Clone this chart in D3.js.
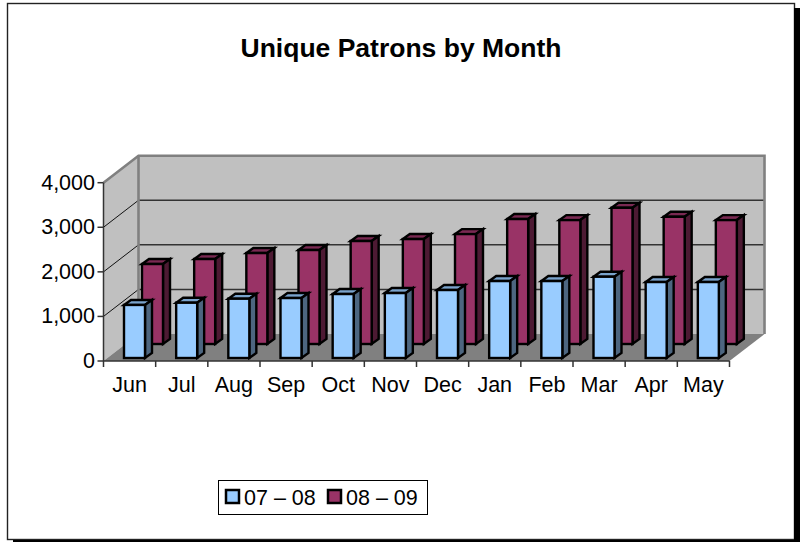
<!DOCTYPE html>
<html><head><meta charset="utf-8">
<script src="https://cdn.jsdelivr.net/npm/d3@7"></script>
<style>html,body{margin:0;padding:0;background:#fff}svg{display:block}text{font-family:"Liberation Sans",Arial,sans-serif;fill:#000}</style>
</head><body><svg id="c" width="801" height="542"></svg>
<script>
const months = ["Jun","Jul","Aug","Sep","Oct","Nov","Dec","Jan","Feb","Mar","Apr","May"];
const series0708 = [1190,1240,1330,1345,1435,1457,1525,1726,1726,1823,1704,1704];
const series0809 = [1794,1906,2040,2108,2310,2354,2466,2803,2780,3056,2854,2780];
const yTicks = [0,1000,2000,3000,4000];
const tickFormat = d3.format(",");
const seriesNames = ["07 – 08","08 – 09"];
const fills = [{front:"#99CCFF",side:"#4D6680",top:"#7AA3CC"},{front:"#993366",side:"#4D1A33",top:"#7A2952"}];

const svg = d3.select("#c");
const x = d3.scaleBand().domain(months).range([103.5,729.5]);
const y = d3.scaleLinear().domain([0,4000]).range([361,182.7]);
const wall = {dx:35,dy:-27};
const depth = {dx:7,dy:-5};
const pts = a => a.map(p=>p.join(",")).join(" ");

// frame with its shadow
svg.append("rect").attr("x",7.5).attr("y",3.5).attr("width",787).attr("height",536).attr("fill","#fff").attr("stroke","#222").attr("stroke-width",1.4);
svg.append("rect").attr("x",794).attr("y",8).attr("width",6).attr("height",534).attr("fill","#000");
svg.append("rect").attr("x",13).attr("y",540).attr("width",787).attr("height",2).attr("fill","#000");

svg.append("text").attr("x",401).attr("y",57).attr("text-anchor","middle").attr("font-size",26.5).attr("font-weight","bold").text("Unique Patrons by Month");

const x0=x.range()[0], x1=x.range()[1], y0=y(0), yT=y(4000);
// back wall, left wall, floor
svg.append("polygon").attr("points",pts([[x0+wall.dx,yT+wall.dy],[x1+wall.dx,yT+wall.dy],[x1+wall.dx,y0+wall.dy],[x0+wall.dx,y0+wall.dy]])).attr("fill","#C0C0C0");
svg.append("polygon").attr("points",pts([[x0,yT],[x0+wall.dx,yT+wall.dy],[x0+wall.dx,y0+wall.dy],[x0,y0]])).attr("fill","#C0C0C0");
svg.append("polygon").attr("points",pts([[x0,y0],[x1,y0],[x1+wall.dx,y0+wall.dy],[x0+wall.dx,y0+wall.dy]])).attr("fill","#808080");
// gridlines
yTicks.slice(1,-1).forEach(t=>{
  svg.append("line").attr("x1",x0+wall.dx).attr("x2",x1+wall.dx).attr("y1",y(t)+wall.dy).attr("y2",y(t)+wall.dy).attr("stroke","#333").attr("stroke-width",1.5);
  svg.append("line").attr("x1",x0).attr("x2",x0+wall.dx).attr("y1",y(t)).attr("y2",y(t)+wall.dy).attr("stroke","#111").attr("stroke-width",1);
});
// wall border
svg.append("polyline").attr("points",pts([[x0,yT],[x0+wall.dx,yT+wall.dy],[x1+wall.dx,yT+wall.dy],[x1+wall.dx,y0+wall.dy]])).attr("fill","none").attr("stroke","#808080").attr("stroke-width",2.6);
svg.append("line").attr("x1",x0+wall.dx).attr("x2",x0+wall.dx).attr("y1",yT+wall.dy).attr("y2",y0+wall.dy).attr("stroke","#808080").attr("stroke-width",2.6);

// bars
function bar(g,m,v,sx,base,c){
  const l=x(m)+sx, w=21, r=l+w, h=y(0)-y(v), t=base-h;
  const gg=g.append("g").attr("stroke","#000").attr("stroke-width",2.4).attr("stroke-linejoin","miter");
  gg.append("polygon").attr("points",pts([[l,t],[r,t],[r+depth.dx,t+depth.dy],[l+depth.dx,t+depth.dy]])).attr("fill",c.top);
  gg.append("polygon").attr("points",pts([[r,t],[r+depth.dx,t+depth.dy],[r+depth.dx,base+depth.dy],[r,base]])).attr("fill",c.side);
  gg.append("rect").attr("x",l).attr("y",t).attr("width",w).attr("height",h).attr("fill",c.front);
}
const bars=svg.append("g");
months.forEach((m,i)=>bar(bars,m,series0809[i],38.5,344,fills[1]));
months.forEach((m,i)=>bar(bars,m,series0708[i],20.5,358,fills[0]));

// axes
const ax=svg.append("g").attr("stroke","#333").attr("stroke-width",1.5);
ax.append("line").attr("x1",x0).attr("x2",x0).attr("y1",yT).attr("y2",y0+6);
ax.append("line").attr("x1",x0).attr("x2",x1).attr("y1",y0).attr("y2",y0);
yTicks.forEach(t=>ax.append("line").attr("x1",x0-6).attr("x2",x0).attr("y1",y(t)).attr("y2",y(t)));
months.forEach(m=>ax.append("line").attr("x1",x(m)+x.bandwidth()).attr("x2",x(m)+x.bandwidth()).attr("y1",y0).attr("y2",y0+6));
yTicks.forEach(t=>svg.append("text").attr("x",95).attr("y",y(t)+7).attr("text-anchor","end").attr("font-size",21.5).text(tickFormat(t)));
months.forEach(m=>svg.append("text").attr("x",x(m)+x.bandwidth()/2).attr("y",392).attr("text-anchor","middle").attr("font-size",21.5).text(m));

// legend
svg.append("rect").attr("x",218.5).attr("y",480.5).attr("width",209).attr("height",34).attr("fill","#fff").attr("stroke","#000").attr("stroke-width",1);
const lx=[226,328];
seriesNames.forEach((s,i)=>{
  svg.append("rect").attr("x",lx[i]).attr("y",490).attr("width",13).attr("height",13).attr("fill",fills[i].front).attr("stroke","#000").attr("stroke-width",2.5);
  svg.append("text").attr("x",lx[i]+18).attr("y",505).attr("font-size",21.5).text(s);
});
</script></body></html>
